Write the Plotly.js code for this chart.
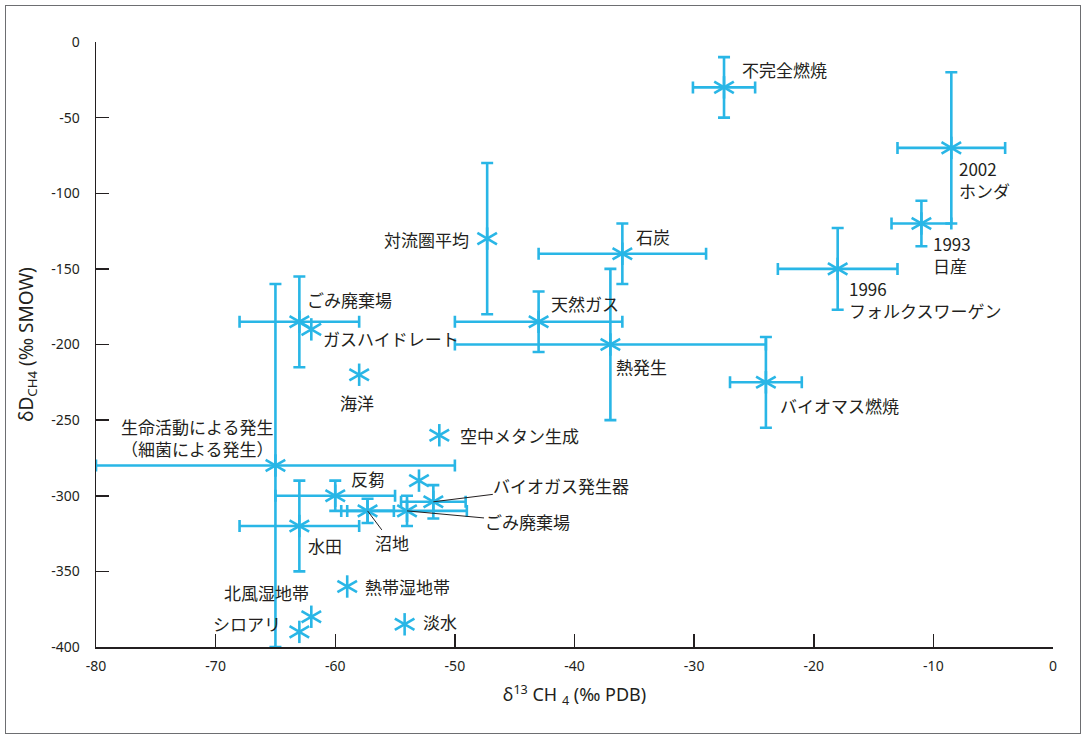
<!DOCTYPE html>
<html>
<head>
<meta charset="utf-8">
<script src="https://cdn.plot.ly/plotly-3.0.1.min.js"></script>
<style>
  html, body { margin: 0; padding: 0; background: #fff; }
  #wrap { position: relative; width: 1088px; height: 740px; }
  #chart { width: 1088px; height: 740px; }
  #frame { position: absolute; left: 5px; top: 5px; width: 1074px; height: 727px;
           border: 1.5px solid #6d6e71; pointer-events: none; }
</style>
</head>
<body>
<div id="wrap"><div id="chart"></div><div id="frame"></div></div>
<script>
// ---- data ----
const sources = [
  "不完全燃焼", "2002<br>ホンダ", "1993<br>日産", "1996<br>フォルクスワーゲン",
  "対流圏平均", "石炭", "天然ガス", "熱発生", "バイオマス燃焼",
  "ごみ廃棄場", "ガスハイドレート", "海洋", "生命活動による発生<br>（細菌による発生）",
  "空中メタン生成", "反芻", "", "バイオガス発生器", "ごみ廃棄場", "沼地", "水田",
  "熱帯湿地帯", "北風湿地帯", "シロアリ", "淡水"
];
const d13C = [
  -27.5, -8.5, -11, -18,
  -47.3, -36, -43, -37, -24,
  -63, -62, -58, -65,
  -51.3, -60, -53, -51.8, -54, -57.3, -63,
  -59, -62, -63, -54.2
];
const dD = [
  -30, -70, -120, -150,
  -130, -140, -185, -200, -225,
  -185, -190, -220, -280,
  -260, -300, -290, -304, -310, -310, -320,
  -360, -380, -390, -385
];
const d13CErr = [
  2.6, 4.5, 2.5, 5,
  NaN, 7, 7, 13, 3,
  5, NaN, NaN, 15,
  NaN, 5, NaN, 2.7, 5, 2.2, 5,
  NaN, NaN, NaN, NaN
];
const dDErr = [
  20, 50, 15, 27,
  50, 20, 20, 50, 30,
  30, NaN, NaN, 120,
  NaN, 10, NaN, 11, 10, 8, 30,
  NaN, NaN, NaN, NaN
];
const xTicks = [-80, -70, -60, -50, -40, -30, -20, -10, 0];
const yTicks = [-400, -350, -300, -250, -200, -150, -100, -50, 0];

// ---- label placement (pixel offsets from each point) ----
const placement = [
  {xs: 17, ys: 18, xa: "left"},
  {xs: 7, ys: -32, xa: "left"},
  {xs: 11, ys: -31, xa: "left"},
  {xs: 10, ys: -31, xa: "left"},
  {xs: -17, ys: -1, xa: "right"},
  {xs: 13, ys: 17, xa: "left"},
  {xs: 11, ys: 18, xa: "left"},
  {xs: 5, ys: -22, xa: "left"},
  {xs: 13, ys: -23, xa: "left"},
  {xs: 7, ys: 22, xa: "left"},
  {xs: 11, ys: -9, xa: "left"},
  {xs: -2, ys: -28, xa: "center"},
  {xs: -78, ys: 28, xa: "center"},
  {xs: 20, ys: 0, xa: "left"},
  {xs: 15, ys: 17, xa: "left"},
  null,
  {arrow: true, ax: 128, ay: -16},
  {arrow: true, ax: 120, ay: 11},
  {arrow: true, ax: 24, ay: 32},
  {xs: 8, ys: -19, xa: "left"},
  {xs: 17, ys: 0, xa: "left"},
  {xs: -45, ys: 24, xa: "center"},
  {xs: -17, ys: 8, xa: "right"},
  {xs: 17, ys: 3, xa: "left"}
];

const BLUE = "#29b6e6";
const INK = "#231f20";
const STAR = 16;

const base = {x: d13C, y: dD, type: "scatter", mode: "markers", hoverinfo: "skip",
              cliponaxis: false, showlegend: false};

const traces = [
  Object.assign({}, base, {
    marker: {symbol: "line-ns-open", size: STAR, color: BLUE, line: {color: BLUE, width: 2.6}},
    error_x: {type: "data", array: d13CErr, symmetric: true, color: BLUE, thickness: 2.6, width: 6},
    error_y: {type: "data", array: dDErr, symmetric: true, color: BLUE, thickness: 2.6, width: 6}
  }),
  Object.assign({}, base, {
    marker: {symbol: "line-ne-open", angle: 15, size: STAR, color: BLUE, line: {color: BLUE, width: 2.6}}
  }),
  Object.assign({}, base, {
    marker: {symbol: "line-nw-open", angle: -15, size: STAR, color: BLUE, line: {color: BLUE, width: 2.6}}
  })
];

const labelFont = {family: "Noto Sans CJK JP, Noto Sans, sans-serif", size: 17, color: INK};
const annotations = [];
sources.forEach((name, i) => {
  const p = placement[i];
  if (!name || !p) return;
  if (p.arrow) {
    annotations.push({x: d13C[i], y: dD[i], xref: "x", yref: "y", text: name, font: labelFont,
      showarrow: true, ax: p.ax, ay: p.ay, arrowhead: 0, arrowwidth: 1, arrowcolor: INK,
      standoff: 0, startstandoff: 0, borderpad: 0});
  } else {
    annotations.push({x: d13C[i], y: dD[i], xref: "x", yref: "y", text: name, font: labelFont,
      showarrow: false, xanchor: p.xa, yanchor: "middle", xshift: p.xs, yshift: p.ys,
      align: p.xa === "center" ? "center" : "left", borderpad: 0});
  }
});

const axisCommon = {
  showgrid: false, zeroline: false, showline: true, linecolor: INK, linewidth: 1.5,
  ticks: "inside", ticklen: 13, tickwidth: 1.5, tickcolor: INK, mirror: false,
  tickfont: {family: "Noto Sans, sans-serif", size: 14, color: INK}, fixedrange: true
};

const layout = {
  width: 1088, height: 740,
  margin: {l: 96, r: 35, t: 42, b: 93},
  paper_bgcolor: "#fff", plot_bgcolor: "#fff",
  xaxis: Object.assign({}, axisCommon, {
    range: [-80, 0], tickvals: xTicks, ticktext: xTicks.map(String), ticklabelstandoff: 6,
    title: {text: "δ<sup>13</sup> CH <sub>4</sub> (‰ PDB)", standoff: 14,
            font: {family: "Noto Sans, sans-serif", size: 18, color: INK}}
  }),
  yaxis: Object.assign({}, axisCommon, {
    range: [-400, 0], tickvals: yTicks, ticktext: yTicks.map(String), ticklabelstandoff: 12,
    title: {text: "δD<sub>CH4</sub> (‰ SMOW)", standoff: 12,
            font: {family: "Noto Sans, sans-serif", size: 19, color: INK}}
  }),
  annotations: annotations
};

Plotly.newPlot("chart", traces, layout, {displayModeBar: false, staticPlot: true});
</script>
</body>
</html>
